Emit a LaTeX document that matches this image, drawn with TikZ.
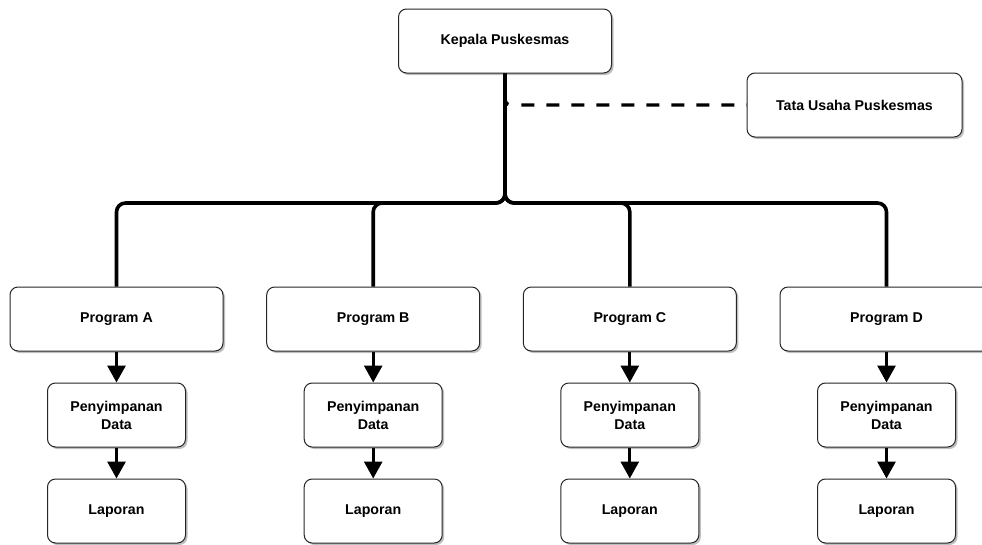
\documentclass[tikz,border=0pt]{standalone}
\usepackage{fontspec}
\setmainfont{Liberation Sans}
\usetikzlibrary{arrows.meta,shadows}
\begin{document}
\begin{tikzpicture}[x=1pt,y=-1pt,
  box/.style={draw=black!85,line width=1pt,rounded corners=8pt,fill=white,
    drop shadow={shadow xshift=2pt,shadow yshift=-2pt,opacity=0.25,fill=black},
    font=\fontsize{14.2}{18}\selectfont\bfseries,align=center,inner sep=0pt},
  bigbox/.style={box,minimum width=213pt,minimum height=64pt},
  smallbox/.style={box,minimum width=138pt,minimum height=64pt},
  conn/.style={line width=3.6pt,rounded corners=9pt},
  dashconn/.style={line width=3.4pt,dash pattern=on 0pt off 1pt on 7pt off 13pt on 13pt off 12pt on 13pt off 12pt on 13pt off 12pt on 13pt off 12pt on 13pt off 12pt on 13pt off 12pt on 13pt off 12pt on 13pt off 12pt on 13pt off 12pt on 13pt off 12pt,rounded corners=5pt},
  arr/.style={line width=3pt,-{Triangle[width=18pt,length=17pt]}}]
\useasboundingbox (0,0) rectangle (982,544);
\node[bigbox] (kep) at (505,41) {Kepala Puskesmas};
\node[bigbox,minimum width=215pt] (tata) at (854.5,105) {Tata Usaha Puskesmas};
\coordinate (bus) at (0,203);
\coordinate (dj) at (505,98);
\foreach \n/\x/\l in {A/116.5/A,B/373.2/B,C/629.8/C,D/886.5/D}{
  \node[bigbox] (p\n) at (\x,319) {Program \l};
  \node[smallbox] (s\n) at (\x,415) {Penyimpanan\\Data};
  \node[smallbox] (l\n) at (\x,511) {Laporan};
}
\foreach \n in {A,B,C,D}{
  \draw[conn] (kep.south) |- (p\n.north |- bus) -- (p\n.north);
  \draw[arr] (p\n.south) -- (s\n.north);
  \draw[arr] (s\n.south) -- (l\n.north);
}
\draw[dashconn] (dj) |- (tata.west);
\end{tikzpicture}
\end{document}
